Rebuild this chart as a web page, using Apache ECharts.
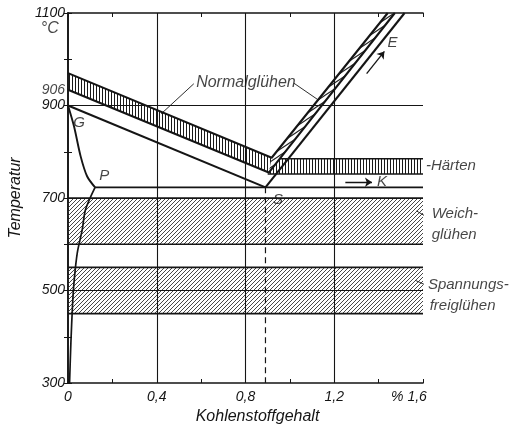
<!DOCTYPE html>
<html><head><meta charset="utf-8">
<script src="https://cdn.jsdelivr.net/npm/echarts@6/dist/echarts.min.js"></script>
<style>html,body{margin:0;padding:0;background:#fff}#c{width:519px;height:431px}</style>
</head><body><div id="c"></div>
<script>
// ---- data (carbon %, temperature °C) ----
const xLabelValues = [0, 0.4, 0.8, 1.2, 1.6];
const xLabelTexts  = ['0', '0,4', '0,8', '1,2', '% 1,6'];
const yLabelValues = [300, 500, 700, 900, 1100];
const gridX = [0.4, 0.8, 1.2];
const gridY = [500, 700, 900];

const gsLine   = [[0, 900], [0.89, 723]];
const gpCurve  = [[0, 900], [0.027, 855], [0.057, 790], [0.086, 747], [0.122, 723]];
const pqCurve  = [[0.122, 723], [0.079, 675], [0.064, 631], [0.042, 582], [0.028, 523], [0.021, 474], [0.013, 387], [0.007, 300]];
const pskLine  = [[0.122, 723], [1.6, 723]];
const seLine   = [[0.89, 723], [1.517, 1100]];
const sDashed  = [[0.89, 723], [0.89, 300]];

const normalUpper = [[0, 970], [0.918, 787], [1.441, 1100]];
const normalLower = [[0, 934], [0.905, 755], [1.473, 1100]];
const normalBandH = [[0, 970], [0.918, 787], [0.905, 755], [0, 934]];
const normalBandD = [[0.918, 787], [1.441, 1100], [1.473, 1100], [0.905, 755]];
const haertenBand = [[0.900, 752], [1.6, 752], [1.6, 785], [0.954, 785]];
const weichBand   = [[0, 600], [1.6, 600], [1.6, 700], [0, 700]];
const spannBand   = [[0, 450], [1.6, 450], [1.6, 550], [0, 550]];

const leaderNormalL = [[0.42, 882], [0.567, 947]];
const leaderNormalR = [[1.019, 948], [1.128, 912]];
const leaderWeich   = [[1.571, 672], [1.62, 658]];
const leaderSpann   = [[1.565, 522], [1.62, 510]];

const arrowK = [[1.25, 734], [1.37, 734]];
const arrowE = [[1.346, 969], [1.426, 1017]];

const pointLabels = [[0.05, 862, 'G'], [0.163, 747, 'P'], [0.946, 696, 'S'], [1.463, 1036, 'E'], [1.415, 734, 'K']];
const sideLabels  = [[1.613, 770, '-Härten'], [1.639, 666, 'Weich-'], [1.639, 621, 'glühen'], [1.622, 513, 'Spannungs-'], [1.63, 467, 'freiglühen']];
const centerLabels = [[0.802, 949, 'Normalglühen'], [-0.082, 1067, '°C']];
const axisExtraLabels = [[0, 934, '906']];

// ---- patterns ----
function patDiag(w, h, color, lw) {
  const c = document.createElement('canvas'); c.width = w; c.height = h;
  const g = c.getContext('2d'); g.strokeStyle = color; g.lineWidth = lw;
  g.beginPath();
  for (let k = -1; k <= 1; k++) {
    g.moveTo(-w * 0.1 + k * w, h + h * 0.1); g.lineTo(w + w * 0.1 + k * w, -h * 0.1);
  }
  g.stroke();
  return { image: c, repeat: 'repeat' };
}
function patVert(w, color) {
  const c = document.createElement('canvas'); c.width = w; c.height = 2;
  const g = c.getContext('2d'); g.fillStyle = color; g.fillRect(0, 0, 1, 2);
  return { image: c, repeat: 'repeat' };
}
const FONT = 'Liberation Sans';
const INK = '#151515';

function poly(pts, fill) {
  return {
    type: 'custom', silent: true, clip: true, data: pts, encode: { x: 0, y: 1 },
    renderItem: function (params, api) {
      if (params.dataIndex !== 0) return;
      return { type: 'polygon', shape: { points: pts.map(p => api.coord(p)) }, style: { fill: fill } };
    }
  };
}
function line(pts, w, extra) {
  return Object.assign({
    type: 'line', data: pts, showSymbol: false, symbol: 'none', silent: true,
    lineStyle: { color: INK, width: w }, z: 3
  }, extra || {});
}
function labels(arr, align, size, offset) {
  return {
    type: 'scatter', silent: true, clip: false, symbolSize: 0, z: 5,
    data: arr.map(a => [a[0], a[1], a[2]]),
    label: {
      show: true, position: offset || [0, 0], align: align, verticalAlign: 'middle',
      formatter: p => p.value[2], color: INK, fontFamily: FONT, fontStyle: 'italic', fontSize: size
    }
  };
}
function arrows(pairs) {
  return {
    type: 'lines', coordinateSystem: 'cartesian2d', silent: true, z: 4,
    symbol: ['none', 'arrow'], symbolSize: 7,
    lineStyle: { color: INK, width: 1.3, opacity: 1 },
    data: pairs.map(p => ({ coords: p }))
  };
}

const gridLines = gridX.map(v => ({ xAxis: v })).concat(gridY.map(v => ({ yAxis: v })));

const axisCommon = {
  axisLine: { show: true, lineStyle: { color: INK, width: 1.6 } },
  axisTick: { show: true, inside: true, length: 4, lineStyle: { color: INK, width: 1 } },
  splitLine: { show: false }
};

const option = {
  animation: false,
  backgroundColor: '#fff',
  grid: { left: 57, right: 96, top: 13, bottom: 48 },
  xAxis: [
    Object.assign({
      type: 'value', min: 0, max: 1.6, interval: 0.2,
      name: 'Kohlenstoffgehalt', nameLocation: 'middle', nameGap: 25,
      nameTextStyle: { fontFamily: FONT, fontStyle: 'italic', fontSize: 16, color: INK, padding: [0, 0, 0, 24] },
      axisLabel: {
        margin: 7, color: INK, fontFamily: FONT, fontStyle: 'italic', fontSize: 14,
        formatter: function (v) {
          const i = xLabelValues.findIndex(x => Math.abs(x - v) < 1e-6);
          if (i < 0) return '';
          if (i === xLabelValues.length - 1) return '{r|' + xLabelTexts[i] + '}';
          return xLabelTexts[i];
        },
        rich: { r: { padding: [0, 28, 0, 0], color: INK, fontFamily: FONT, fontStyle: 'italic', fontSize: 14 } }
      }
    }, axisCommon),
    Object.assign({ type: 'value', min: 0, max: 1.6, interval: 0.2, position: 'top', axisLabel: { show: false } }, axisCommon)
  ],
  yAxis: [
    Object.assign({
      type: 'value', min: 300, max: 1100, interval: 100,
      name: 'Temperatur', nameLocation: 'middle', nameGap: 35, nameRotate: 90,
      nameTextStyle: { fontFamily: FONT, fontStyle: 'italic', fontSize: 16, color: INK },
      axisLabel: {
        margin: 3, color: INK, fontFamily: FONT, fontStyle: 'italic', fontSize: 14,
        formatter: v => yLabelValues.indexOf(Math.round(v)) >= 0 ? String(Math.round(v)) : ''
      }
    }, axisCommon),
    Object.assign({ type: 'value', min: 300, max: 1100, interval: 100, position: 'right', axisLabel: { show: false } }, axisCommon)
  ],
  series: [
    poly(weichBand, patDiag(4, 4, '#333', 0.9)),
    poly(spannBand, patDiag(4, 4, '#333', 0.9)),
    poly(normalBandH, patVert(3, '#1a1a1a')),
    poly(haertenBand, patVert(3, '#1a1a1a')),
    poly(normalBandD, patDiag(9, 6, '#222', 1.1)),
    line([[0, 300], [0, 300]], 1, {
      markLine: {
        silent: true, symbol: 'none', label: { show: false },
        lineStyle: { color: INK, width: 1.1, type: 'solid' }, data: gridLines
      }
    }),
    line([[0, 700], [1.6, 700]], 1.7),
    line([[0, 600], [1.6, 600]], 1.7),
    line([[0, 550], [1.6, 550]], 1.7),
    line([[0, 450], [1.6, 450]], 1.7),
    line([[0.954, 785], [1.6, 785]], 1.6),
    line([[0.900, 752], [1.6, 752]], 1.6),
    line(normalUpper, 2.1),
    line(normalLower, 2.1),
    line(gsLine, 2.1),
    line(seLine, 2.1),
    line(pskLine, 1.9),
    line(gpCurve, 1.9, { smooth: 0.3 }),
    line(pqCurve, 1.7, { smooth: 0.3 }),
    line(sDashed, 1.2, { lineStyle: { color: INK, width: 1.2, type: [6, 4] } }),
    line(leaderNormalL, 0.9),
    line(leaderNormalR, 0.9),
    line(leaderWeich, 0.9, { clip: false }),
    line(leaderSpann, 0.9, { clip: false }),
    arrows([arrowK, arrowE]),
    labels(pointLabels, 'center', 15),
    labels(sideLabels, 'left', 15),
    labels(centerLabels, 'center', 16),
    labels(axisExtraLabels, 'right', 14, [-3, 0])
  ]
};
const chart = echarts.init(document.getElementById('c'), null, { renderer: 'canvas' });
chart.setOption(option);
</script></body></html>
